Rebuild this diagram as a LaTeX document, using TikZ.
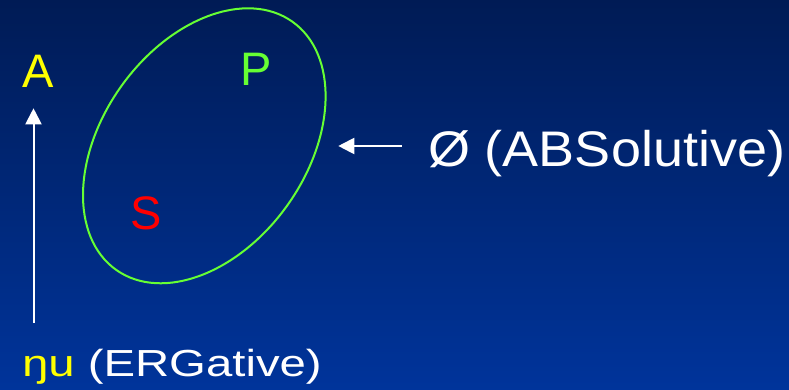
\documentclass[tikz,border=0pt]{standalone}
\usepackage{fontspec}
\setmainfont{Liberation Sans}
\usetikzlibrary{arrows.meta}
\definecolor{bgtop}{RGB}{0,27,85}
\definecolor{bgbot}{RGB}{0,52,155}
\definecolor{lgreen}{RGB}{102,255,51}
\definecolor{yel}{RGB}{255,255,0}
\definecolor{rd}{RGB}{255,0,0}
\tikzset{
  lbl/.style={inner sep=0pt, outer sep=0pt, anchor=base west, font=\fontsize{47}{50}\selectfont},
  bigtxt/.style={inner sep=0pt, outer sep=0pt, anchor=base west, text=white},
  arr/.style={draw=white, line width=2pt, -{Triangle[length=16pt,width=16pt]}},
}
\begin{document}
\begin{tikzpicture}[x=1pt,y=1pt]
\shade[top color=bgtop, bottom color=bgbot] (0,0) rectangle (789,390);
\useasboundingbox (0,0) rectangle (789,390);
\draw[lgreen, line width=2pt, rotate around={54.6:(204.3,244.2)}] (204.3,244.2) ellipse [x radius=152.2, y radius=102.2];
\node[lbl, text=yel] (A) at (23,302.7) {A};
\node[lbl, text=lgreen] (P) at (240,304.3) {P};
\node[lbl, text=rd] (S) at (130,160.7) {S};
\node[bigtxt] (abs) at (428,223.3) {\scalebox{1.08}[1]{\fontsize{50}{56}\selectfont Ø (ABSolutive)}};
\node[inner sep=0pt, outer sep=0pt, anchor=base west] (erg) at (22,13.3) {\scalebox{1.255}[1]{\fontsize{37.7}{40}\selectfont\textcolor{yel}{ŋu} \textcolor{white}{(ERGative)}}};
\coordinate (ergtop) at (33.5,67.3);
\coordinate (atip) at (33.5,281.7);
\coordinate (abstail) at (401.7,244);
\coordinate (abstip) at (338.3,244);
\draw[arr] (ergtop) -- (atip);
\draw[arr] (abstail) -- (abstip);
\end{tikzpicture}
\end{document}
